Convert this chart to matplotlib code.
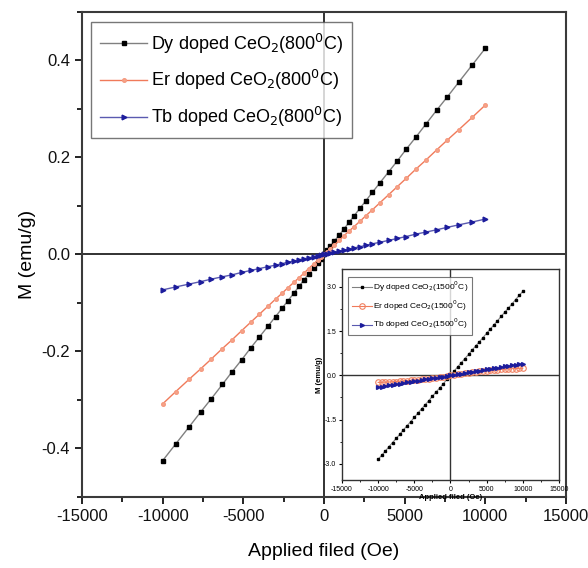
import matplotlib
matplotlib.use("Agg")
import matplotlib.pyplot as plt
from matplotlib.ticker import MultipleLocator

plt.rcParams['font.family'] = ['Liberation Sans', 'DejaVu Sans']

# ---- main panel data (800 C) ----
field_main = [-10000, -9200, -8350, -7650, -7000, -6300, -5700, -5100, -4550, -4000,
              -3450, -3000, -2600, -2250, -1850, -1550, -1250, -950, -650, -400, -200,
              0, 200, 400, 650, 950, 1250, 1550, 1850, 2250, 2600, 3000, 3450, 4000,
              4550, 5100, 5700, 6300, 7000, 7650, 8350, 9200, 10000]
m_dy_800 = [-0.425, -0.391, -0.355, -0.325, -0.298, -0.268, -0.242, -0.217, -0.193, -0.170,
            -0.147, -0.128, -0.111, -0.096, -0.079, -0.066, -0.053, -0.040, -0.028, -0.017, -0.0085,
            0.0, 0.0085, 0.017, 0.028, 0.040, 0.053, 0.066, 0.079, 0.096, 0.111, 0.128, 0.147, 0.170,
            0.193, 0.217, 0.242, 0.268, 0.298, 0.325, 0.355, 0.391, 0.425]
m_er_800 = [-0.308, -0.283, -0.257, -0.236, -0.216, -0.194, -0.176, -0.157, -0.140, -0.123,
            -0.106, -0.092, -0.080, -0.069, -0.057, -0.048, -0.039, -0.029, -0.020, -0.012, -0.006,
            0.0, 0.006, 0.012, 0.020, 0.029, 0.039, 0.048, 0.057, 0.069, 0.080, 0.092, 0.106, 0.123,
            0.140, 0.157, 0.176, 0.194, 0.216, 0.236, 0.257, 0.283, 0.308]
m_tb_800 = [-0.073, -0.067, -0.061, -0.056, -0.051, -0.046, -0.042, -0.037, -0.033, -0.029,
            -0.025, -0.022, -0.019, -0.016, -0.0135, -0.011, -0.009, -0.007, -0.0047, -0.0029, -0.0015,
            0.0, 0.0015, 0.0029, 0.0047, 0.007, 0.009, 0.011, 0.0135, 0.016, 0.019, 0.022, 0.025, 0.029,
            0.033, 0.037, 0.042, 0.046, 0.051, 0.056, 0.061, 0.067, 0.073]

# ---- inset data (1500 C) ----
field_inset = [-10000, -9500, -9000, -8500, -8000, -7500, -7000, -6500, -6000, -5500, -5000,
               -4500, -4000, -3500, -3000, -2500, -2000, -1500, -1000, -500, 0,
               500, 1000, 1500, 2000, 2500, 3000, 3500, 4000, 4500, 5000,
               5500, 6000, 6500, 7000, 7500, 8000, 8500, 9000, 9500, 10000]
m_dy_1500 = [-2.85, -2.71, -2.57, -2.42, -2.28, -2.14, -2.00, -1.85, -1.71, -1.57, -1.43,
             -1.28, -1.14, -1.00, -0.86, -0.71, -0.57, -0.43, -0.29, -0.14, 0.0,
             0.14, 0.29, 0.43, 0.57, 0.71, 0.86, 1.00, 1.14, 1.28, 1.43,
             1.57, 1.71, 1.85, 2.00, 2.14, 2.28, 2.42, 2.57, 2.71, 2.85]
m_er_1500 = [-0.24, -0.235, -0.23, -0.225, -0.22, -0.21, -0.20, -0.19, -0.18, -0.17, -0.16,
             -0.15, -0.14, -0.12, -0.11, -0.09, -0.075, -0.06, -0.04, -0.02, 0.0,
             0.02, 0.04, 0.06, 0.075, 0.09, 0.11, 0.12, 0.14, 0.15, 0.16,
             0.17, 0.18, 0.19, 0.20, 0.21, 0.22, 0.225, 0.23, 0.235, 0.24]
m_tb_1500 = [-0.40, -0.38, -0.36, -0.34, -0.32, -0.30, -0.28, -0.26, -0.24, -0.22, -0.20,
             -0.18, -0.16, -0.14, -0.12, -0.10, -0.08, -0.06, -0.04, -0.02, 0.0,
             0.02, 0.04, 0.06, 0.08, 0.10, 0.12, 0.14, 0.16, 0.18, 0.20,
             0.22, 0.24, 0.26, 0.28, 0.30, 0.32, 0.34, 0.36, 0.38, 0.40]

labels_main = ['Dy doped CeO$_2$(800$^0$C)', 'Er doped CeO$_2$(800$^0$C)', 'Tb doped CeO$_2$(800$^0$C)']
labels_inset = ['Dy doped CeO$_2$(1500$^0$C)', 'Er doped CeO$_2$(1500$^0$C)', 'Tb doped CeO$_2$(1500$^0$C)']

fig = plt.figure(figsize=(5.88, 5.68), dpi=100)
ax = fig.add_axes([0.1395, 0.125, 0.823, 0.854])

spine_col = '#3a3a3a'
ax.axhline(0, color='#222222', lw=1.3, zorder=1)
ax.axvline(0, color='#222222', lw=1.3, zorder=1)

ax.plot(field_main, m_dy_800, color='#808080', lw=1.0, marker='s', ms=2.2,
        mfc='black', mec='black', label=labels_main[0], zorder=3)
ax.plot(field_main, m_er_800, color='#f07a5a', lw=1.0, marker='o', ms=2.6,
        mfc='#f5a58a', mec='#f59a80', label=labels_main[1], zorder=3)
ax.plot(field_main, m_tb_800, color='#5a5ab0', lw=1.0, marker='>', ms=3.4,
        mfc='#1c1c9c', mec='#1c1c9c', label=labels_main[2], zorder=3)

ax.set_xlim(-15000, 15000)
ax.set_ylim(-0.5, 0.5)
ax.xaxis.set_minor_locator(MultipleLocator(2500))
ax.yaxis.set_minor_locator(MultipleLocator(0.1))
ax.tick_params(which='major', direction='out', length=5, width=1.3, labelsize=12,
               colors='#111111', top=False, right=False)
ax.tick_params(which='minor', direction='out', length=3.5, width=1.2, top=False, right=False)
ax.set_xticks([-15000, -10000, -5000, 0, 5000, 10000, 15000])
ax.set_xticklabels(['-15000', '-10000', '-5000', '0', '5000', '10000', '15000'])
ax.set_yticks([-0.4, -0.2, 0.0, 0.2, 0.4])
ax.set_yticklabels(['-0.4', '-0.2', '0.0', '0.2', '0.4'])
for s in ax.spines.values():
    s.set_color(spine_col)
    s.set_linewidth(1.5)
ax.set_xlabel('Applied filed (Oe)', fontsize=14, labelpad=14)
ax.set_ylabel('M (emu/g)', fontsize=14, labelpad=4)

leg = ax.legend(loc='upper left', fontsize=13, frameon=True, fancybox=False,
                edgecolor='#555555', handlelength=2.6, borderpad=0.5,
                labelspacing=0.7, handletextpad=0.2, bbox_to_anchor=(0.0, 0.997))
leg.get_frame().set_linewidth(1.0)

# ---- inset ----
ins = fig.add_axes([0.5816, 0.155, 0.369, 0.371])
ins.axhline(0, color='#333333', lw=1.0, zorder=1)
ins.axvline(0, color='#333333', lw=1.0, zorder=1)
ins.plot(field_inset, m_dy_1500, color='#808080', lw=0.8, marker='s', ms=2.0,
         mfc='black', mec='black', label=labels_inset[0], zorder=3)
ins.plot(field_inset, m_er_1500, color='#f07a5a', lw=0.8, marker='o', ms=4.0,
         mfc='none', mec='#f08060', mew=0.8, label=labels_inset[1], zorder=3)
ins.plot(field_inset, m_tb_1500, color='#5a5ab0', lw=0.8, marker='>', ms=2.8,
         mfc='#1c1c9c', mec='#1c1c9c', label=labels_inset[2], zorder=3)
ins.set_xlim(-15000, 15000)
ins.set_ylim(-3.55, 3.6)
ins.set_xticks([-15000, -10000, -5000, 0, 5000, 10000, 15000])
ins.set_xticklabels(['-15000', '-10000', '-5000', '0', '5000', '10000', '15000'])
ins.set_yticks([-3.0, -1.5, 0.0, 1.5, 3.0])
ins.set_yticklabels(['-3.0', '-1.5', '0.0', '1.5', '3.0'])
ins.xaxis.set_minor_locator(MultipleLocator(2500))
ins.yaxis.set_minor_locator(MultipleLocator(0.75))
ins.tick_params(which='major', direction='out', length=2.5, width=0.8, labelsize=5, pad=1.5)
ins.tick_params(which='minor', direction='out', length=1.5, width=0.6)
for s in ins.spines.values():
    s.set_color('#333333')
    s.set_linewidth(1.0)
ins.set_xlabel('Applied filed (Oe)', fontsize=5.5, fontweight='bold', labelpad=1)
ins.set_ylabel('M (emu/g)', fontsize=5.5, fontweight='bold', labelpad=1)
lg2 = ins.legend(loc='upper left', fontsize=6, frameon=True, fancybox=False,
                 edgecolor='#555555', handlelength=2.4, borderpad=0.4,
                 labelspacing=0.5, handletextpad=0.2, bbox_to_anchor=(0.01, 0.985))
lg2.get_frame().set_linewidth(0.8)

fig.savefig('out.png', dpi=100)
